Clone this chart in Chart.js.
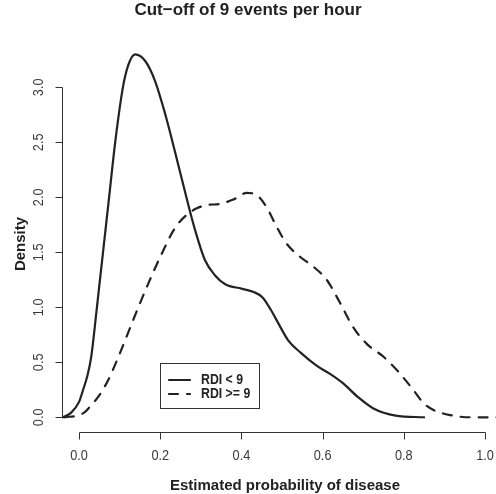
<!DOCTYPE html>
<html>
<head>
<meta charset="utf-8">
<script src="https://cdn.jsdelivr.net/npm/chart.js@4"></script>
<style>
  html, body { margin: 0; padding: 0; background: #fff; }
  #wrap { width: 496px; height: 494px; }
</style>
</head>
<body>
<div id="wrap"><canvas id="densityChart" width="496" height="494"></canvas></div>
<script>
// labels
const chartTitle = 'Cut\u2212off of 9 events per hour';
const xTitle = 'Estimated probability of disease';
const yTitle = 'Density';
const seriesNames = ['RDI < 9', 'RDI >= 9'];

// RDI < 9 (solid)
const probLow = [-0.04, -0.02, 0.0, 0.01, 0.02, 0.03, 0.044, 0.059, 0.074, 0.089, 0.108, 0.121, 0.138,
  0.163, 0.187, 0.212, 0.236, 0.261, 0.286, 0.31, 0.335, 0.36, 0.40, 0.43, 0.452, 0.472, 0.493, 0.515,
  0.545, 0.585, 0.62, 0.65, 0.685, 0.725, 0.78, 0.85];
const densityLow = [0.0, 0.04, 0.14, 0.25, 0.37, 0.55, 1.00, 1.50, 2.00, 2.50, 3.00, 3.20, 3.30,
  3.24, 3.06, 2.76, 2.42, 2.05, 1.70, 1.43, 1.29, 1.21, 1.17, 1.14, 1.09, 0.98, 0.84, 0.70,
  0.59, 0.47, 0.39, 0.31, 0.19, 0.08, 0.015, 0.0];

// RDI >= 9 (dashed)
const probHigh = [-0.035, 0.0, 0.015, 0.03, 0.048, 0.072, 0.097, 0.121, 0.146, 0.171, 0.204, 0.236,
  0.265, 0.29, 0.315, 0.347, 0.38, 0.413, 0.438, 0.462, 0.487, 0.511, 0.544, 0.577, 0.61, 0.643,
  0.675, 0.708, 0.75, 0.785, 0.823, 0.848, 0.873, 0.914, 0.963, 1.03];
const densityHigh = [0.0, 0.02, 0.05, 0.11, 0.19, 0.34, 0.55, 0.77, 1.00, 1.22, 1.49, 1.72,
  1.84, 1.90, 1.93, 1.94, 1.98, 2.04, 2.02, 1.91, 1.73, 1.58, 1.46, 1.37, 1.25, 1.04,
  0.82, 0.67, 0.55, 0.42, 0.25, 0.13, 0.066, 0.02, 0.0, 0.0];

const xTicks = [0, 0.2, 0.4, 0.6, 0.8, 1.0];
const yTicks = [0, 0.5, 1, 1.5, 2, 2.5, 3];

const ink = '#222';

function toPoints(xs, ys) {
  return xs.map((v, i) => ({ x: v, y: ys[i] }));
}

// squeeze: horizontal condensing along the text direction
function text(ctx, str, x, y, font, opts) {
  opts = opts || {};
  ctx.save();
  ctx.translate(x, y);
  if (opts.rotate) ctx.rotate(-Math.PI / 2);
  if (opts.squeeze) ctx.scale(opts.squeeze, 1);
  ctx.font = font;
  ctx.fillStyle = opts.color || ink;
  ctx.textAlign = opts.align || 'center';
  ctx.textBaseline = 'alphabetic';
  ctx.fillText(str, 0, 0);
  ctx.restore();
}

// R-style axes, titles and legend box
const rDecor = {
  id: 'rDecor',
  afterDraw(chart) {
    const ctx = chart.ctx;
    const a = chart.chartArea;
    const xs = chart.scales.x, ys = chart.scales.y;
    ctx.save();
    ctx.strokeStyle = '#333';
    ctx.lineWidth = 1;

    // x axis
    const xa = a.bottom - 0.5;
    ctx.beginPath();
    ctx.moveTo(Math.round(xs.getPixelForValue(xTicks[0])) + 0.5, xa);
    ctx.lineTo(Math.round(xs.getPixelForValue(xTicks[xTicks.length - 1])) + 0.5, xa);
    xTicks.forEach(v => {
      const p = Math.round(xs.getPixelForValue(v)) + 0.5;
      ctx.moveTo(p, xa);
      ctx.lineTo(p, xa + 7);
    });
    // y axis
    const ya = a.left + 0.5;
    ctx.moveTo(ya, Math.round(ys.getPixelForValue(yTicks[0])) + 0.5);
    ctx.lineTo(ya, Math.round(ys.getPixelForValue(yTicks[yTicks.length - 1])) + 0.5);
    yTicks.forEach(v => {
      const p = Math.round(ys.getPixelForValue(v)) + 0.5;
      ctx.moveTo(ya, p);
      ctx.lineTo(ya - 7, p);
    });
    ctx.stroke();

    const tickFont = '15px "Liberation Sans", Arial, sans-serif';
    xTicks.forEach(v => {
      text(ctx, v.toFixed(1), xs.getPixelForValue(v), 460, tickFont, { color: '#3a3a3a', squeeze: 0.85 });
    });
    yTicks.forEach(v => {
      text(ctx, v.toFixed(1), 43, ys.getPixelForValue(v), tickFont, { rotate: true, color: '#3a3a3a', squeeze: 0.85 });
    });

    text(ctx, chartTitle, 248, 15, 'bold 17px "Liberation Sans", Arial, sans-serif');
    text(ctx, xTitle, 285, 490, 'bold 15px "Liberation Sans", Arial, sans-serif');
    text(ctx, yTitle, 25, 244, 'bold 15px "Liberation Sans", Arial, sans-serif', { rotate: true });

    // legend
    ctx.strokeStyle = '#333';
    ctx.lineWidth = 1;
    ctx.strokeRect(160.5, 363.5, 99, 45);
    const rows = [380, 394];
    chart.data.datasets.forEach((ds, i) => {
      ctx.beginPath();
      ctx.strokeStyle = ink;
      ctx.lineWidth = ds.borderWidth;
      ctx.lineCap = ds.borderCapStyle || 'butt';
      ctx.setLineDash(ds.borderDash || []);
      ctx.moveTo(169, rows[i]);
      ctx.lineTo(190, rows[i]);
      ctx.stroke();
      ctx.setLineDash([]);
      text(ctx, ds.label, 201, rows[i] + 4, 'bold 15px "Liberation Sans", Arial, sans-serif', { align: 'left', squeeze: 0.82 });
    });
    ctx.restore();
  }
};

new Chart(document.getElementById('densityChart'), {
  type: 'line',
  data: {
    datasets: [{
      label: seriesNames[0],
      data: toPoints(probLow, densityLow),
      borderColor: ink,
      borderWidth: 2.2,
      borderCapStyle: 'round',
      pointRadius: 0,
      cubicInterpolationMode: 'monotone',
      fill: false
    }, {
      label: seriesNames[1],
      data: toPoints(probHigh, densityHigh),
      borderColor: ink,
      borderWidth: 2.2,
      borderCapStyle: 'round',
      borderDash: [9, 9],
      pointRadius: 0,
      cubicInterpolationMode: 'monotone',
      fill: false
    }]
  },
  options: {
    responsive: false,
    animation: false,
    devicePixelRatio: 1,
    layout: { padding: { left: 62, top: 39, right: 0, bottom: 61 } },
    scales: {
      x: { type: 'linear', min: -0.042, max: 1.027, display: false },
      y: { type: 'linear', min: -0.143, max: 3.44, display: false }
    },
    plugins: {
      legend: { display: false },
      tooltip: { enabled: false },
      title: { display: false }
    }
  },
  plugins: [rDecor]
});
</script>
</body>
</html>
